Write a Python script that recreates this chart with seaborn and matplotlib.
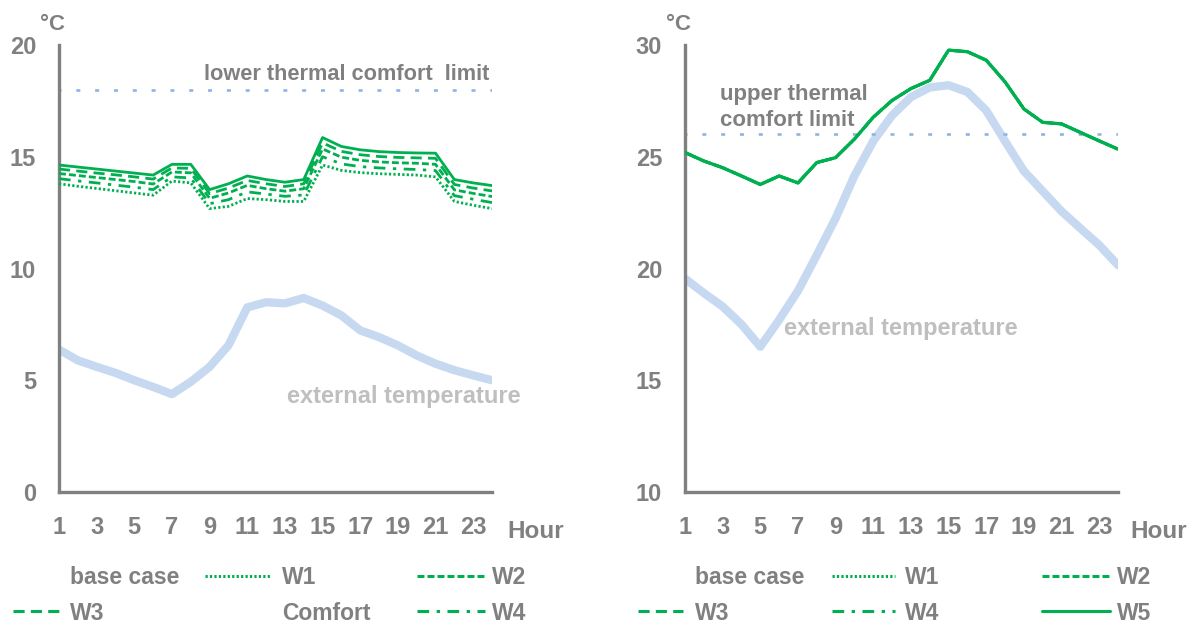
import matplotlib
matplotlib.use("Agg")
import matplotlib.pyplot as plt
from matplotlib.lines import Line2D
from matplotlib.ticker import MultipleLocator, FixedLocator
import seaborn as sns

# ---------------------------------------------------------------- data
hours = list(range(1, 25))

# winter day (left panel), °C
winter_external = [6.37, 5.89, 5.60, 5.33, 5.00, 4.70, 4.38, 4.93, 5.60, 6.56, 8.26, 8.49,
                   8.44, 8.68, 8.34, 7.90, 7.23, 6.93, 6.56, 6.11, 5.74, 5.45, 5.22, 5.00]
winter_base = [14.63, 14.54, 14.45, 14.36, 14.27, 14.18, 14.66, 14.66, 13.53, 13.79, 14.14, 13.98,
               13.86, 13.98, 15.86, 15.46, 15.31, 15.23, 15.19, 15.17, 15.16, 13.98, 13.83, 13.71]
winter_w3 = [14.45, 14.36, 14.27, 14.19, 14.10, 14.00, 14.50, 14.48, 13.35, 13.60, 13.94, 13.79,
             13.67, 13.79, 15.62, 15.24, 15.09, 15.01, 14.97, 14.95, 14.93, 13.76, 13.60, 13.47]
winter_w2 = [14.25, 14.16, 14.07, 13.98, 13.89, 13.78, 14.32, 14.28, 13.14, 13.38, 13.72, 13.57,
             13.46, 13.57, 15.35, 14.98, 14.84, 14.77, 14.73, 14.71, 14.66, 13.52, 13.36, 13.22]
winter_w4 = [14.02, 13.92, 13.83, 13.73, 13.64, 13.53, 14.10, 14.05, 12.90, 13.08, 13.43, 13.33,
             13.23, 13.29, 15.00, 14.68, 14.56, 14.50, 14.46, 14.43, 14.38, 13.26, 13.10, 12.95]
winter_w1 = [13.79, 13.68, 13.58, 13.48, 13.38, 13.28, 13.91, 13.83, 12.68, 12.78, 13.13, 13.08,
             13.00, 13.00, 14.63, 14.39, 14.29, 14.24, 14.21, 14.18, 14.10, 13.00, 12.83, 12.68]
winter_limit = 18.0

# summer day (right panel), °C -- all glazing variants coincide
summer_external = [19.55, 18.90, 18.30, 17.50, 16.50, 17.70, 19.00, 20.60, 22.25, 24.15, 25.70, 26.85,
                   27.67, 28.10, 28.20, 27.90, 27.07, 25.70, 24.36, 23.46, 22.56, 21.80, 21.05, 20.15]
summer_indoor = [25.19, 24.81, 24.51, 24.14, 23.76, 24.14, 23.83, 24.74, 24.96, 25.79, 26.77, 27.52,
                 28.05, 28.42, 29.77, 29.70, 29.32, 28.35, 27.14, 26.54, 26.47, 26.09, 25.71, 25.34]
summer_limit = 26.0

left_labels = ["base case", "W1", "W2", "W3", "Comfort", "W4"]
right_labels = ["base case", "W1", "W2", "W3", "W4", "W5"]

# ---------------------------------------------------------------- style
GREEN = "#00b050"
EXT = "#c6d9f1"
LIMIT = "#8eb4e3"
GREY = "#808080"
LIGHT = "#bfbfbf"

sns.set_theme(style="white")
plt.rcParams["font.family"] = ["Liberation Sans", "DejaVu Sans"]
plt.rcParams["font.weight"] = "bold"
plt.rcParams["lines.scale_dashes"] = False

DASH = {
    "base case": "-",
    "W1": (0, (1.6, 1.6)),
    "W2": (0, (5.0, 2.2)),
    "W3": (0, (8.0, 4.5)),
    "W4": (0, (8.4, 5.4, 2.4, 5.4)),
    "W5": "-",
}

W, H = 1192, 628
fig = plt.figure(figsize=(W / 100, H / 100), dpi=100)
fig.patch.set_facecolor("white")
axL = fig.add_axes([59 / W, 1 - 492 / H, 433 / W, 447 / H])
axR = fig.add_axes([685 / W, 1 - 492 / H, 433 / W, 447 / H])


def style_axis(ax, ylo, yhi):
    ax.set_xlim(1, 24)
    ax.set_ylim(ylo, yhi)
    ax.set_facecolor("white")
    ax.grid(False)
    ax.xaxis.set_major_locator(FixedLocator(list(range(1, 24, 2))))
    ax.xaxis.set_minor_locator(FixedLocator(list(range(2, 25, 2))))
    ax.yaxis.set_major_locator(MultipleLocator(5))
    ax.yaxis.set_minor_locator(MultipleLocator(1))
    for s in ["top", "right"]:
        ax.spines[s].set_visible(False)
    for s in ["left", "bottom"]:
        ax.spines[s].set_color(GREY)
        ax.spines[s].set_linewidth(2.4)
    ax.tick_params(axis="x", which="major", direction="in", length=4.5, width=1.6,
                   color=GREY, pad=17, labelsize=17, labelcolor=GREY)
    ax.tick_params(axis="x", which="minor", direction="out", length=4.5, width=1.6, color=GREY)
    ax.tick_params(axis="y", which="major", direction="out", length=4.5, width=1.6,
                   color=GREY, pad=12, labelsize=17, labelcolor=GREY)
    ax.tick_params(axis="y", which="minor", direction="in", length=4.5, width=1.6, color=GREY)
    ax.set_xlabel("")
    ax.set_ylabel("")


def draw_line(ax, y, color, lw, ls="-", z=3):
    sns.lineplot(x=hours, y=y, ax=ax, color=color, linewidth=lw, linestyle=ls,
                 errorbar=None, legend=False, zorder=z)


# ---------------------------------------------------------------- left panel
draw_line(axL, winter_external, EXT, 6.0, z=2)
draw_line(axL, [winter_limit] * len(hours), LIMIT, 1.9, (1.45, (2.9, 10.65)), z=2)
draw_line(axL, winter_w1, GREEN, 2.0, DASH["W1"])
draw_line(axL, winter_w4, GREEN, 2.0, DASH["W4"])
draw_line(axL, winter_w2, GREEN, 2.0, DASH["W2"])
draw_line(axL, winter_w3, GREEN, 2.0, DASH["W3"])
draw_line(axL, winter_base, GREEN, 2.0, DASH["base case"], z=4)
style_axis(axL, 0, 20)

# ---------------------------------------------------------------- right panel
draw_line(axR, summer_external, EXT, 6.0, z=2)
draw_line(axR, [summer_limit] * len(hours), LIMIT, 1.9, (1.45, (2.9, 10.65)), z=2)
for name in ["W1", "W2", "W3", "W4"]:
    draw_line(axR, summer_indoor, GREEN, 2.0, DASH[name])
draw_line(axR, summer_indoor, GREEN, 2.4, DASH["W5"], z=4)
style_axis(axR, 10, 30)

# ---------------------------------------------------------------- annotations
def ftext(x, y, s, size, color=GREY, **kw):
    fig.text(x / W, 1 - y / H, s, fontsize=size, color=color, fontweight="bold",
             ha="left", va="baseline", **kw)


ftext(40, 30, "°C", 16)
ftext(666, 30, "°C", 16)
ftext(507, 538, "Hour", 17.5)
ftext(1130, 538, "Hour", 17.5)
ftext(204, 80, "lower thermal comfort  limit", 15.7)
ftext(720, 100, "upper thermal", 16)
ftext(720, 126, "comfort limit", 16)
ftext(287, 403, "external temperature", 17, color=LIGHT)
ftext(784, 335, "external temperature", 17, color=LIGHT)

# ---------------------------------------------------------------- legends
LEG_FS = 16.5
fs_px = LEG_FS * 100 / 72


def make_handle(name):
    if name in ("base case", "Comfort"):
        return Line2D([], [], color="none")
    return Line2D([], [], color=GREEN, linewidth=2.2, linestyle=DASH[name])


def add_key(name, col, y):
    x0, x1, xt = col
    fig.legend([make_handle(name)], [name], loc="center left",
               bbox_to_anchor=(x0 / W, 1 - y / H), frameon=False, fontsize=LEG_FS,
               handlelength=(x1 - x0) / fs_px, handletextpad=(xt - x1) / fs_px,
               borderpad=0, borderaxespad=0, labelcolor=GREY)


rows = [578, 613]
cols_left = [(13, 60, 70), (205, 270, 282), (417, 485, 492)]
cols_right = [(638, 683, 695), (832, 895, 905), (1042, 1110, 1117)]

for i, name in enumerate(left_labels):
    add_key(name, cols_left[i % 3], rows[i // 3])
for i, name in enumerate(right_labels):
    add_key(name, cols_right[i % 3], rows[i // 3])

fig.savefig("out.png", dpi=100, facecolor="white")
